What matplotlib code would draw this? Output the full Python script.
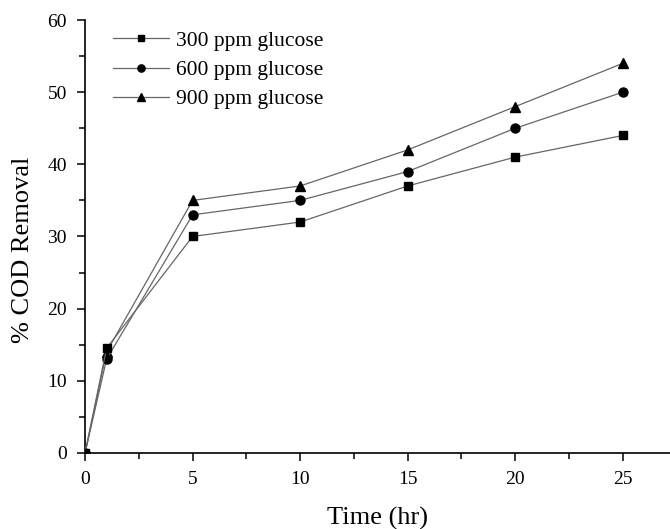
import matplotlib
matplotlib.use("Agg")
import matplotlib.pyplot as plt
from matplotlib.ticker import MultipleLocator

# data
time_hr = [0, 1, 5, 10, 15, 20, 25]
cod_300 = [0, 14.5, 30, 32, 37, 41, 44]
cod_600 = [0, 13, 33, 35, 39, 45, 50]
cod_900 = [0, 14, 35, 37, 42, 48, 54]

plt.rcParams['font.family'] = ['Liberation Serif', 'DejaVu Serif']

fig = plt.figure(figsize=(6.7, 5.29), dpi=100)
ax = fig.add_axes([0.127, 0.144, 0.873, 0.818])

line_col = '#666666'
ax.plot(time_hr, cod_900, color=line_col, lw=0.9, marker='^', ms=7.5,
        mfc='black', mec='black', label='900 ppm glucose', zorder=3)
ax.plot(time_hr, cod_600, color=line_col, lw=0.9, marker='o', ms=6.5,
        mfc='black', mec='black', label='600 ppm glucose', zorder=4)
ax.plot(time_hr, cod_300, color=line_col, lw=0.9, marker='s', ms=6,
        mfc='black', mec='black', label='300 ppm glucose', zorder=5)

ax.set_xlim(0, 27.2)
ax.set_ylim(0, 60)
ax.xaxis.set_major_locator(MultipleLocator(5))
ax.xaxis.set_minor_locator(MultipleLocator(2.5))
ax.yaxis.set_major_locator(MultipleLocator(10))
ax.yaxis.set_minor_locator(MultipleLocator(5))
ax.tick_params(which='major', direction='out', length=6, width=1.1,
               labelsize=14, pad=7)
ax.tick_params(which='minor', direction='out', length=4, width=1.1)

ax.spines['top'].set_visible(False)
ax.spines['right'].set_visible(False)
ax.spines['left'].set_linewidth(1.2)
ax.spines['bottom'].set_linewidth(1.2)

ax.set_xlabel('Time (hr)', fontsize=19, labelpad=14)
ax.set_ylabel('% COD Removal', fontsize=19)
ax.yaxis.set_label_coords(-0.088, 0.47)

handles, labels = ax.get_legend_handles_labels()
ax.legend(handles[::-1], labels[::-1], loc='upper left', frameon=False,
          fontsize=15.5, handlelength=2.6, handletextpad=0.3,
          labelspacing=0.42, markerscale=0.8, borderpad=0, borderaxespad=0,
          bbox_to_anchor=(0.048, 0.975))

fig.savefig('out.png', dpi=100)
